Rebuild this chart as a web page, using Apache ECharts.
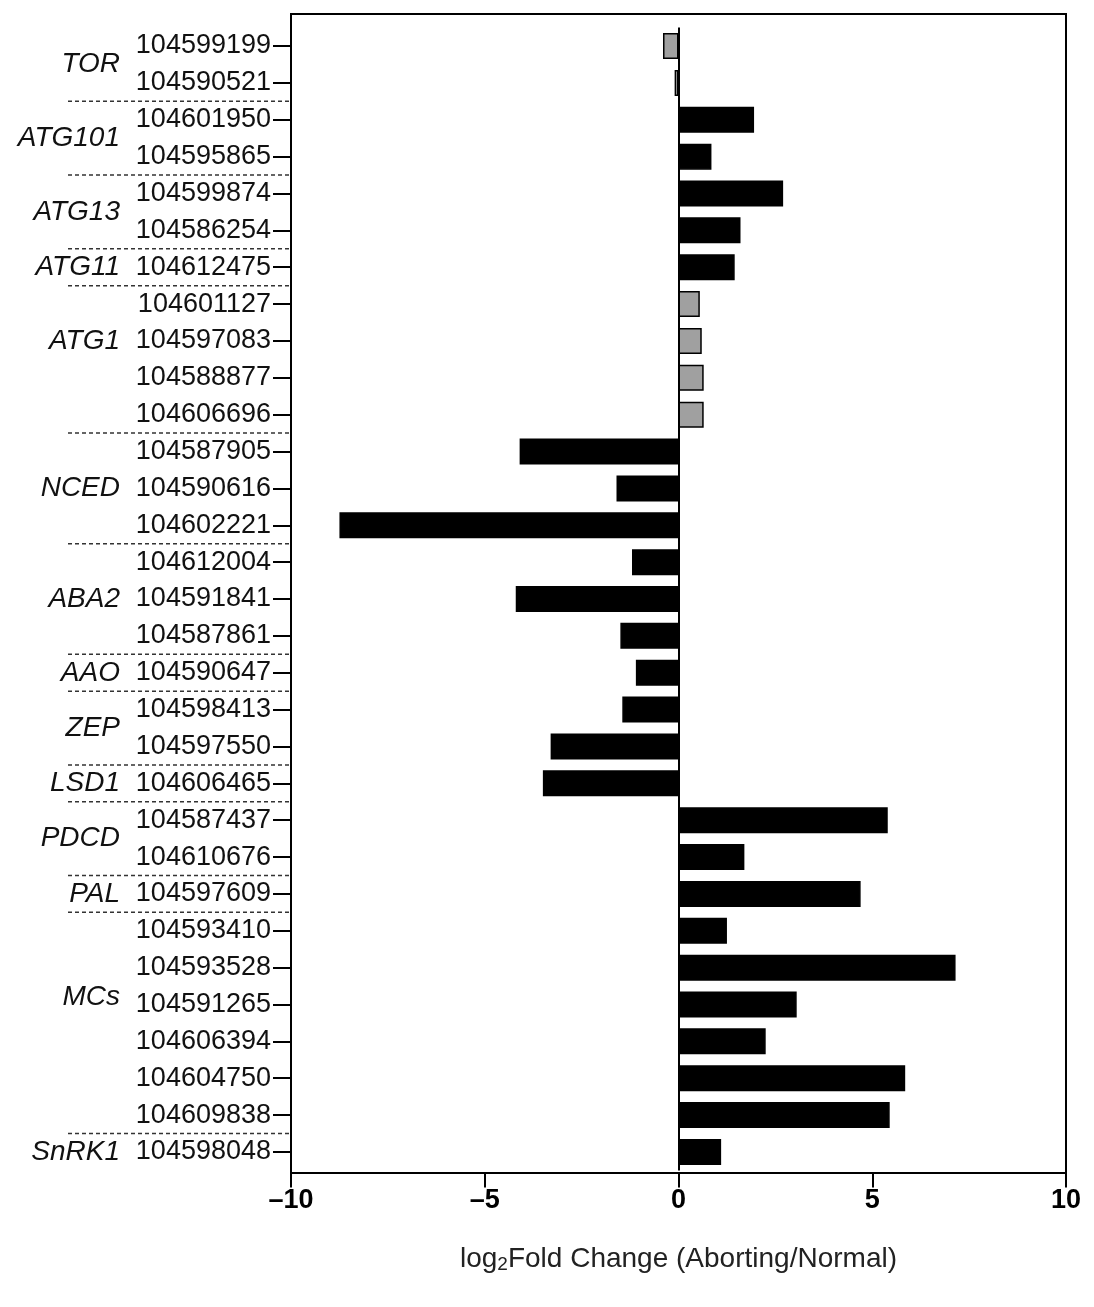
<!DOCTYPE html>
<html>
<head>
<meta charset="utf-8">
<title>log2 fold change</title>
<script src="https://cdn.jsdelivr.net/npm/echarts@6/dist/echarts.min.js"></script>
<style>body{margin:0;background:#fff}</style>
</head>
<body>
<div id="main" style="width:1094px;height:1307px;"></div>
<script>
var genes = ['104599199','104590521','104601950','104595865','104599874','104586254','104612475',
  '104601127','104597083','104588877','104606696','104587905','104590616','104602221',
  '104612004','104591841','104587861','104590647','104598413','104597550','104606465',
  '104587437','104610676','104597609','104593410','104593528','104591265','104606394',
  '104604750','104609838','104598048']
var values = [-0.4,-0.1,1.95,0.85,2.7,1.6,1.45,0.55,0.6,0.65,0.65,-4.1,-1.6,-8.75,
  -1.2,-4.2,-1.5,-1.1,-1.45,-3.3,-3.5,5.4,1.7,4.7,1.25,7.15,3.05,2.25,5.85,5.45,1.1]
var groups = ['TOR','ATG101','ATG13','ATG11','ATG1','NCED','ABA2','AAO','ZEP','LSD1','PDCD','PAL','MCs','SnRK1']
var groupSizes = [2,2,2,1,4,3,3,1,2,1,2,1,6,1]
var greyGroups = ['TOR','ATG1']
var xTicks = [-10,-5,0,5,10]

var chart = echarts.init(document.getElementById('main'))
var font = 'Liberation Sans, Arial, sans-serif'

var colors = []
groups.forEach(function (g, i) {
  for (var k = 0; k < groupSizes[i]; k++) colors.push(greyGroups.indexOf(g) >= 0 ? '#a0a0a0' : '#000')
})

chart.setOption({
  animation: false,
  grid: {left: 291, right: 28, top: 27.6, height: 1142.8},
  xAxis: {
    type: 'value', min: -10, max: 10, interval: 5, offset: 3,
    axisLine: {show: false},
    axisTick: {show: true, length: 14, lineStyle: {color: '#000', width: 2}},
    splitLine: {show: false},
    axisLabel: {fontSize: 27, fontWeight: 'bold', color: '#000', fontFamily: font, margin: 14,
      formatter: function (v) { return v < 0 ? '\u2013' + (-v) : String(v) }},
    name: '{a|log}{s|2}{a|Fold Change (Aborting/Normal)}',
    nameLocation: 'middle', nameGap: 70,
    nameTextStyle: {rich: {
      a: {fontSize: 28, color: '#222', fontFamily: font},
      s: {fontSize: 19, color: '#222', fontFamily: font, verticalAlign: 'bottom', padding: [12, 0, 0, 0]}
    }}
  },
  yAxis: {
    type: 'category', inverse: true, data: genes,
    axisLine: {show: false, onZero: false},
    axisTick: {show: true, alignWithLabel: true, length: 18, lineStyle: {color: '#000', width: 2}},
    axisLabel: {fontSize: 27, color: '#111', fontFamily: font, margin: 20}
  },
  series: [{
    type: 'bar', barWidth: 26,
    data: values.map(function (v, i) {
      return {value: v, itemStyle: {color: colors[i], borderColor: '#000', borderWidth: 1.5}}
    }),
    markLine: {symbol: 'none', silent: true, label: {show: false},
      lineStyle: {color: '#000', type: 'solid', width: 2}, data: [{xAxis: 0}]}
  }]
})

var gfx = []
var tl = chart.convertToPixel({xAxisIndex: 0}, -10)
var tr = chart.convertToPixel({xAxisIndex: 0}, 10)
gfx.push({type: 'rect', shape: {x: tl, y: 14, width: tr - tl, height: 1159},
  style: {fill: null, stroke: '#000', lineWidth: 2}, z: 10})

var start = 0
var band = chart.convertToPixel({yAxisIndex: 0}, 1) - chart.convertToPixel({yAxisIndex: 0}, 0)
groups.forEach(function (g, i) {
  var n = groupSizes[i]
  var mid = start + (n - 1) / 2
  if (g === 'ATG1') mid = start + 1
  if (g === 'MCs') mid = start + 1.8
  var y = chart.convertToPixel({yAxisIndex: 0}, 0) + mid * band
  gfx.push({type: 'text', x: 120, y: y, style: {text: g, fontSize: 28, fontStyle: 'italic',
    fontFamily: font, fill: '#111', align: 'right', verticalAlign: 'middle'}})
  start += n
  if (i < groups.length - 1) {
    var yb = chart.convertToPixel({yAxisIndex: 0}, 0) + (start - 0.5) * band
    gfx.push({type: 'line', shape: {x1: 68, y1: yb, x2: tl, y2: yb},
      style: {stroke: '#333', lineWidth: 1.5, lineDash: [4, 3]}})
  }
})
chart.setOption({graphic: gfx})
</script>
</body>
</html>
